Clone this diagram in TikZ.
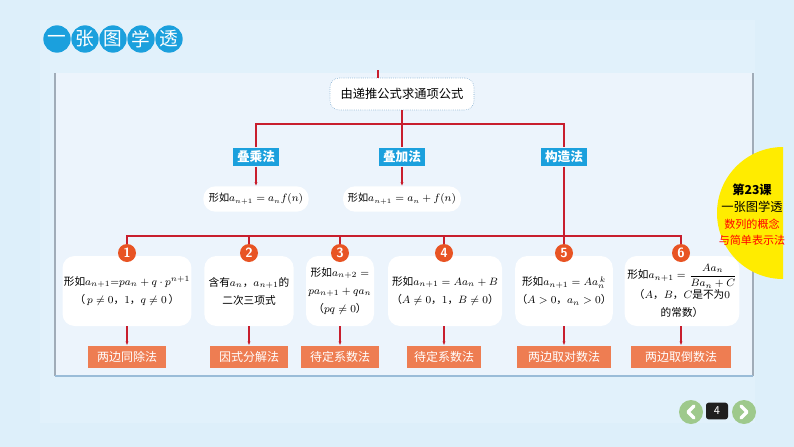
\documentclass[tikz,border=0pt]{standalone}
\usepackage{amsmath}
\usepackage{fontspec}
\usetikzlibrary{
  arrows.meta,
  positioning,
  calc
}
\newfontfamily\cjk{Noto Sans CJK SC}
\definecolor{pagebg}{RGB}{221,239,250}
\definecolor{framebg}{RGB}{225,241,251}
\definecolor{panelbg}{RGB}{236,244,252}
\definecolor{skyblue}{RGB}{27,160,221}
\definecolor{linered}{RGB}{200,30,45}
\definecolor{numorange}{RGB}{232,84,36}
\definecolor{coral}{RGB}{238,125,82}
\definecolor{navgreen}{RGB}{158,201,140}
\definecolor{dotblue}{RGB}{110,160,200}
\definecolor{edgegray}{RGB}{160,172,184}
\definecolor{sunyellow}{RGB}{255,236,0}

\begin{document}
\begin{tikzpicture}[x=0.75pt, y=-0.75pt,
    every node/.style={font=\cjk\fontsize{8}{13.5}\selectfont},
    link/.style={draw=linered, line width=0.9pt},
    arrow/.style={link, -{Latex[length=3pt,width=2.4pt]}},
    titledot/.style={circle, fill=skyblue, text=white, minimum size=20.5pt, inner sep=0pt, font=\cjk\fontsize{14}{14}\selectfont},
    rootbox/.style={draw=dotblue, densely dotted, fill=white, rounded corners=7pt, minimum width=108pt, minimum height=24pt, font=\cjk\fontsize{9.2}{11}\selectfont},
    methodbox/.style={fill=skyblue, text=white, minimum width=35pt, minimum height=14pt, inner sep=1pt, font=\cjk\bfseries\fontsize{9.5}{11}\selectfont},
    pill/.style={fill=white, rounded corners=9pt, minimum height=19pt, font=\cjk\fontsize{7.6}{10}\selectfont},
    casebox/.style={fill=white, rounded corners=9pt, minimum height=52.5pt, align=center, inner sep=1pt},
    numdot/.style={circle, fill=numorange, text=white, minimum size=13.5pt, inner sep=0pt, font=\sffamily\bfseries\fontsize{10}{10}\selectfont},
    solvebox/.style={fill=coral, text=white, minimum height=17pt, inner sep=1pt, font=\cjk\fontsize{9}{11}\selectfont}
  ]
  \useasboundingbox (0,0) rectangle (794,447);

  % Page and panel
  \fill[pagebg] (0,0) rectangle (794,447);
  \fill[framebg] (40,20) rectangle (755,423);
  \fill[panelbg] (55,73) rectangle (753,376);
  \draw[edgegray, line width=0.8pt] (55,73) -- (55,376);
  \draw[edgegray, line width=0.8pt] (753,73) -- (753,376);
  \draw[dotblue!70, line width=0.8pt] (55,376) -- (753,376);

  % Title
  \node[titledot] (t1) at (57,39) {一};
  \node[titledot] (t2) at (85,39) {张};
  \node[titledot] (t3) at (113,39) {图};
  \node[titledot] (t4) at (141,39) {学};
  \node[titledot] (t5) at (169,39) {透};

  % Root
  \node[rootbox] (root) at (402,94) {由递推公式求通项公式};
  \coordinate (feed) at (378,70);
  \draw[link] (feed) -- (feed |- root.north);

  % Methods
  \node[methodbox] (m1) at (256,157) {叠乘法};
  \node[methodbox] (m2) at (402,157) {叠加法};
  \node[methodbox] (m3) at (564,157) {构造法};
  \coordinate (hubA) at (402,124);
  \draw[link] (root) -- (m2);
  \draw[link] (m1.north) |- (hubA) -| (m3.north);

  \node[pill, minimum width=79pt] (p1) at (256,199) {形如$a_{n+1}=a_n f(n)$};
  \node[pill, minimum width=88.5pt] (p2) at (402,199) {形如$a_{n+1}=a_n+f(n)$};
  \draw[arrow] (m1) -- (p1);
  \draw[arrow] (m2) -- (p2);

  % Cases
  \node[casebox, minimum width=94pt] (b1) at (127,291) {形如$a_{n+1}{=}pa_n+q\cdot p^{n+1}$\\（\,$p\neq0$，$1$，$q\neq0$\,）};
  \node[casebox, minimum width=67pt] (b2) at (249,291) {含有$a_n$，$a_{n+1}$的\\二次三项式};
  \node[casebox, minimum width=51pt] (b3) at (340,291) {形如$a_{n+2}=$\\$pa_{n+1}+qa_n$\\（$pq\neq0$）};
  \node[casebox, minimum width=85.5pt] (b4) at (445,291) {形如$a_{n+1}=Aa_n+B$\\（$A\neq0$，$1$，$B\neq0$）};
  \node[casebox, minimum width=73pt] (b5) at (564,291) {形如$a_{n+1}=Aa_{n}^{\,k}$\\（$A>0$，$a_n>0$）};
  \node[casebox, minimum width=86pt] (b6) at (682,291) {形如$a_{n+1}=\dfrac{Aa_n}{Ba_n+C}$\\（$A$，$B$，$C$是不为$0$\\的常数）};

  \coordinate (hubB) at (564,236);
  \draw[link] (m3) -- (hubB);
  \draw[link] (b1.north -| 127,0) |- (hubB) -| (b6.north -| 681,0);
  \draw[link] (249,236) -- (249,253);
  \draw[link] (340,236) -- (340,253);
  \draw[link] (444,236) -- (444,253);
  \draw[link] (hubB) -- (564,253);

  \node[numdot] (c1) at (127,253) {1};
  \node[numdot] (c2) at (249,253) {2};
  \node[numdot] (c3) at (340,253) {3};
  \node[numdot] (c4) at (444,253) {4};
  \node[numdot] (c5) at (564,253) {5};
  \node[numdot] (c6) at (681,253) {6};

  % Solving methods
  \node[solvebox, minimum width=58pt] (r1) at (127,357) {两边同除法};
  \node[solvebox, minimum width=58pt] (r2) at (249,357) {因式分解法};
  \node[solvebox, minimum width=58.5pt] (r3) at (340,357) {待定系数法};
  \node[solvebox, minimum width=56pt] (r4) at (444,357) {待定系数法};
  \node[solvebox, minimum width=71pt] (r5) at (564,357) {两边取对数法};
  \node[solvebox, minimum width=75pt] (r6) at (681,357) {两边取倒数法};
  \draw[arrow] (b1.south -| r1) -- (r1);
  \draw[arrow] (b2.south -| r2) -- (r2);
  \draw[arrow] (b3.south -| r3) -- (r3);
  \draw[arrow] (b4.south -| r4) -- (r4);
  \draw[arrow] (b5.south -| r5) -- (r5);
  \draw[arrow] (b6.south -| r6) -- (r6);

  % Lesson badge
  \begin{scope}
    \clip (700,140) rectangle (783,290);
    \fill[sunyellow] (783,213) circle (49.5pt);
  \end{scope}
  \node[align=center, font=\cjk\fontsize{9.2}{12.5}\selectfont] (badge) at (752,215)
    {{\bfseries 第23课}\\一张图学透\\{\color{red}\fontsize{8.3}{12}\selectfont 数列的概念}\\{\color{red}\fontsize{8.3}{12}\selectfont 与简单表示法}};

  % Page navigation
  \fill[navgreen] (691,412) circle (9pt);
  \fill[navgreen] (744,412) circle (9pt);
  \draw[white, line width=2.6pt, line cap=round, line join=round] (694,406) -- (688,412) -- (694,418);
  \draw[white, line width=2.6pt, line cap=round, line join=round] (741,406) -- (747,412) -- (741,418);
  \node[fill=black!88, text=white, rounded corners=2pt, minimum width=16.5pt, minimum height=12.5pt, inner sep=0pt, font=\sffamily\fontsize{9}{9}\selectfont] (page) at (717,411) {4};
\end{tikzpicture}
\end{document}
